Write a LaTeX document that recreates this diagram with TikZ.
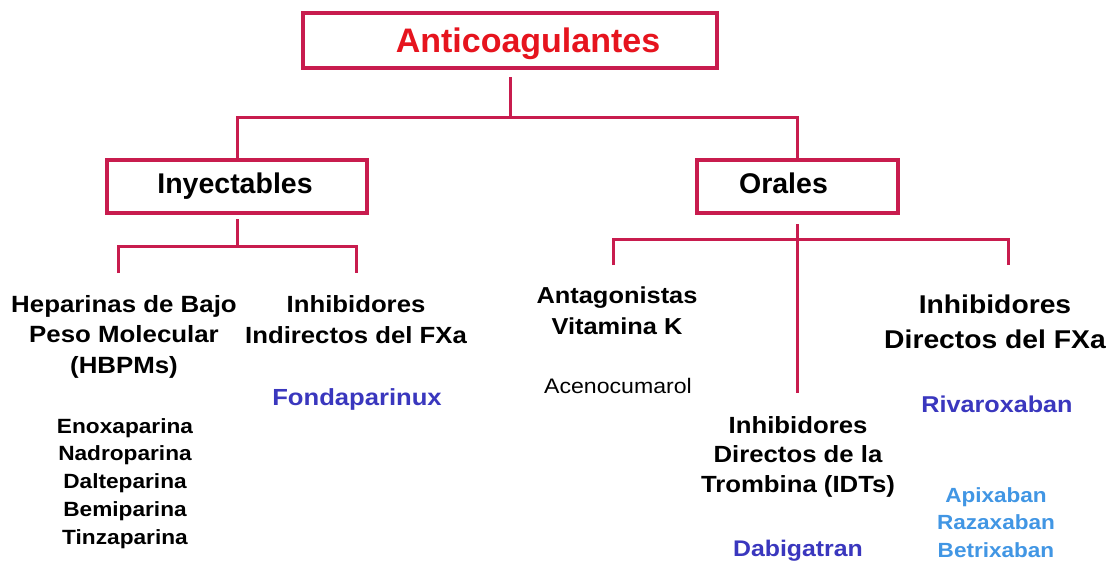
\documentclass[tikz,border=0pt]{standalone}
\usepackage{fontspec}
\setmainfont{Liberation Sans}
\newfontfamily\widefont[FakeStretch=1.1]{Liberation Sans}
\definecolor{lineC}{RGB}{200,28,78}
\definecolor{redT}{RGB}{230,20,30}
\definecolor{blueD}{RGB}{58,55,190}
\definecolor{blueL}{RGB}{65,150,228}
\newcommand{\fsz}[2]{\fontsize{#1}{#2}\selectfont}
\begin{document}
\begin{tikzpicture}[x=1pt,y=-1pt,
 box/.style={draw=lineC, line width=4pt, inner sep=0pt, fill=white},
 conn/.style={draw=lineC, line width=3pt},
 lbl/.style={anchor=base, align=center, inner sep=0pt},
]
\useasboundingbox (0,0) rectangle (1112,562);
\fill[white] (0,0) rectangle (1112,562);

\node[box, minimum width=414pt, minimum height=55pt, text height=24pt, text depth=0pt, font=\bfseries\fsz{34}{40}, text=redT] (top) at (510,40.5) {\hspace*{36pt}Anticoagulantes};
\node[box, minimum width=260pt, minimum height=53pt, text height=20pt, text depth=7pt, font=\bfseries\fsz{28.5}{34}] (iny) at (237,186.5) {\hspace*{-4pt}Inyectables};
\node[box, minimum width=201pt, minimum height=53pt, text height=20pt, text depth=7pt, font=\bfseries\fsz{28.5}{34}] (ora) at (797.5,186.5) {Orales\hspace*{28pt}};

% multi-line nodes: base anchor = baseline of the last line
\node[lbl, font=\widefont\bfseries\fsz{23.5}{30.5}] (hep) at (124,373) {Heparinas de Bajo\\Peso Molecular\\(HBPMs)};
\node[lbl, font=\widefont\bfseries\fsz{23.4}{31}] (indx) at (356,343) {Inhibidores\\Indirectos del FXa};
\node[lbl, font=\widefont\bfseries\fsz{23.3}{28}, text=blueD] (fonda) at (357,405) {Fondaparinux};
\node[lbl, font=\widefont\bfseries\fsz{20.6}{27.7}] (hlist) at (125,544) {Enoxaparina\\Nadroparina\\Dalteparina\\Bemiparina\\Tinzaparina};
\node[lbl, font=\widefont\bfseries\fsz{23.1}{31}] (avk) at (617,334) {Antagonistas\\Vitamina K};
\node[lbl, font=\widefont\fsz{21}{25}] (aceno) at (618,393) {Acenocumarol};
\node[lbl, font=\widefont\bfseries\fsz{25.7}{35}] (idxa) at (995,348) {Inhibidores\\Directos del FXa};
\node[lbl, font=\widefont\bfseries\fsz{22.9}{28}, text=blueD] (riva) at (997,412) {Rivaroxaban};
\node[lbl, font=\widefont\bfseries\fsz{23.4}{29.5}] (idt) at (798,492) {Inhibidores\\Directos de la\\Trombina (IDTs)};
\node[lbl, font=\widefont\bfseries\fsz{22.6}{28}, text=blueD] (dabi) at (798,556) {Dabigatran};
\node[lbl, font=\widefont\bfseries\fsz{20.5}{27.5}, text=blueL] (xlist) at (996,557) {Apixaban\\Razaxaban\\Betrixaban};

\coordinate (j1) at (510,117);
\coordinate (j2) at (237,246);
\coordinate (j3) at (797.5,239);
\coordinate (e1) at (118,273);
\coordinate (e2) at (356,273);
\coordinate (e3) at (613,265);
\coordinate (e4) at (1008,265);
\coordinate (e5) at (797.5,393);

\draw[conn] ([yshift=-7pt]top.south) -- (j1);
\draw[conn] (iny.north) -- (iny.north |- j1) -- (ora.north |- j1) -- (ora.north);
\draw[conn] ([yshift=-4pt]iny.south) -- (j2);
\draw[conn] (e1) -- (e1 |- j2) -- (e2 |- j2) -- (e2);
\draw[conn] ([yshift=-9pt]ora.south) -- (e5);
\draw[conn] (e3) -- (e3 |- j3) -- (e4 |- j3) -- (e4);
\end{tikzpicture}
\end{document}
